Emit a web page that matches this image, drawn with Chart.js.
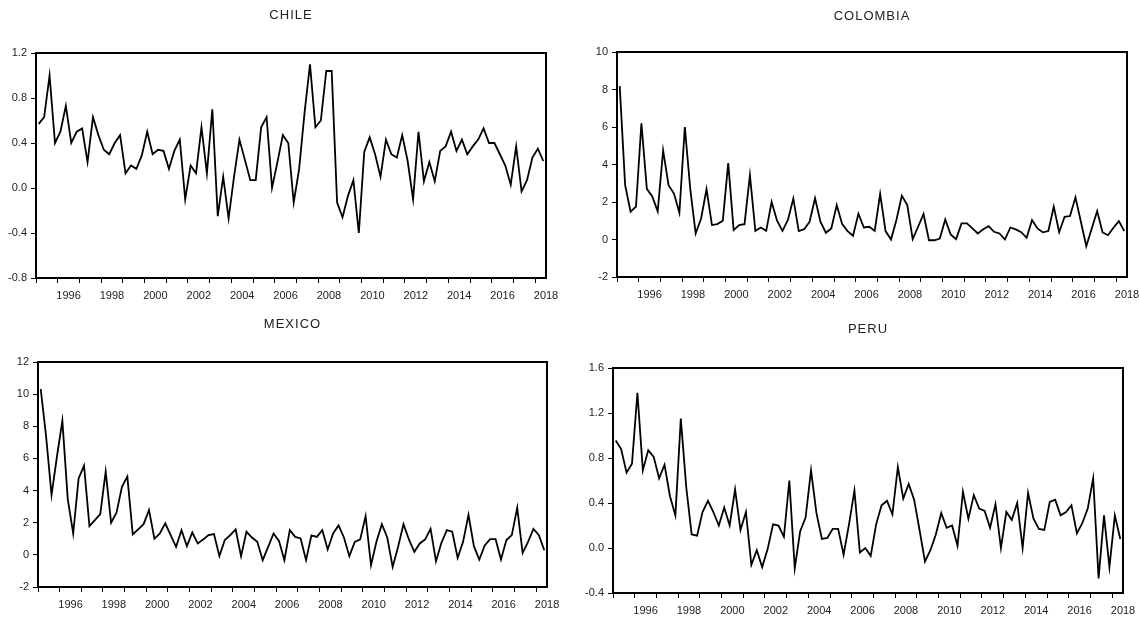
<!DOCTYPE html>
<html>
<head>
<meta charset="utf-8">
<script src="https://cdn.jsdelivr.net/npm/chart.js@4.4.1/dist/chart.umd.min.js"></script>
<style>
  body { margin: 0; background: #fff; }
  canvas { position: absolute; }
</style>
</head>
<body>
<canvas id="chile" width="570" height="305" style="left:0;top:0"></canvas>
<canvas id="colombia" width="569" height="305" style="left:570px;top:0"></canvas>
<canvas id="mexico" width="570" height="309" style="left:0;top:310px"></canvas>
<canvas id="peru" width="569" height="309" style="left:570px;top:310px"></canvas>
<script>
// quarterly series, 1995Q1 - 2018Q2
var firstYear = 1995;
var nQuarters = 94;

var xTickYears = [1995, 1996, 1997, 1998, 1999, 2000, 2001, 2002, 2003, 2004, 2005, 2006,
                  2007, 2008, 2009, 2010, 2011, 2012, 2013, 2014, 2015, 2016, 2017, 2018];
var xLabelYears = [1996, 1998, 2000, 2002, 2004, 2006, 2008, 2010, 2012, 2014, 2016, 2018];

var chile = [
    0.57, 0.63, 1.00, 0.40, 0.50, 0.73, 0.40, 0.50, 0.53, 0.23,
    0.63, 0.47, 0.34, 0.30, 0.40, 0.47, 0.13, 0.20, 0.17, 0.29,
    0.50, 0.30, 0.34, 0.33, 0.17, 0.33, 0.43, -0.10, 0.20, 0.13,
    0.54, 0.13, 0.70, -0.25, 0.10, -0.27, 0.10, 0.43, 0.25, 0.07,
    0.07, 0.54, 0.63, 0.00, 0.23, 0.47, 0.40, -0.13, 0.17, 0.67,
    1.10, 0.54, 0.60, 1.04, 1.04, -0.13, -0.26, -0.07, 0.07, -0.40,
    0.32, 0.45, 0.30, 0.10, 0.43, 0.30, 0.27, 0.47, 0.24, -0.10,
    0.50, 0.06, 0.23, 0.06, 0.33, 0.37, 0.50, 0.33, 0.43, 0.30,
    0.37, 0.43, 0.53, 0.40, 0.40, 0.30, 0.20, 0.03, 0.37, -0.03,
    0.07, 0.27, 0.35, 0.24
];
var colombia = [
    8.18, 2.90, 1.48, 1.75, 6.20, 2.70, 2.30, 1.50, 4.75, 2.90,
    2.45, 1.43, 6.00, 2.70, 0.32, 1.12, 2.68, 0.77, 0.82, 1.00,
    4.07, 0.50, 0.77, 0.82, 3.43, 0.46, 0.64, 0.46, 2.00, 1.00,
    0.46, 1.04, 2.18, 0.45, 0.55, 0.95, 2.20, 0.95, 0.36, 0.59,
    1.84, 0.82, 0.45, 0.20, 1.38, 0.64, 0.68, 0.46, 2.43, 0.45,
    0.00, 1.04, 2.34, 1.84, 0.02, 0.68, 1.36, -0.04, -0.04, 0.05,
    1.07, 0.27, 0.02, 0.86, 0.86, 0.59, 0.32, 0.55, 0.71, 0.41,
    0.32, 0.00, 0.64, 0.54, 0.39, 0.09, 1.04, 0.59, 0.38, 0.45,
    1.75, 0.39, 1.21, 1.25, 2.25, 0.95, -0.36, 0.59, 1.52, 0.38,
    0.23, 0.63, 0.98, 0.45
];
var mexico = [
    10.32, 7.36, 3.72, 6.12, 8.34, 3.45, 1.33, 4.76, 5.55, 1.79,
    2.16, 2.54, 5.18, 2.00, 2.62, 4.24, 4.87, 1.27, 1.58, 1.91,
    2.79, 1.00, 1.33, 1.96, 1.23, 0.50, 1.54, 0.54, 1.39, 0.71,
    0.96, 1.23, 1.29, -0.08, 0.92, 1.23, 1.58, -0.08, 1.44, 1.08,
    0.81, -0.33, 0.50, 1.33, 0.87, -0.33, 1.54, 1.12, 1.02, -0.33,
    1.21, 1.12, 1.54, 0.33, 1.33, 1.83, 1.08, -0.08, 0.81, 0.96,
    2.41, -0.64, 0.81, 1.91, 1.08, -0.75, 0.50, 1.91, 0.96, 0.19,
    0.71, 0.96, 1.62, -0.40, 0.75, 1.54, 1.44, -0.19, 0.81, 2.48,
    0.54, -0.29, 0.58, 0.98, 0.98, -0.29, 0.92, 1.23, 2.93, 0.12,
    0.81, 1.62, 1.23, 0.29
];
var peru = [
    0.955, 0.88, 0.67, 0.75, 1.38, 0.69, 0.87, 0.81, 0.62, 0.74,
    0.46, 0.29, 1.15, 0.54, 0.12, 0.11, 0.32, 0.42, 0.32, 0.20,
    0.36, 0.20, 0.52, 0.16, 0.32, -0.15, -0.02, -0.17, -0.01, 0.21,
    0.20, 0.10, 0.60, -0.18, 0.15, 0.27, 0.69, 0.31, 0.08, 0.09,
    0.17, 0.17, -0.06, 0.21, 0.51, -0.04, 0.00, -0.07, 0.21, 0.38,
    0.42, 0.30, 0.72, 0.44, 0.57, 0.43, 0.16, -0.12, -0.02, 0.12,
    0.31, 0.18, 0.20, 0.02, 0.50, 0.26, 0.47, 0.35, 0.33, 0.18,
    0.39, 0.00, 0.32, 0.25, 0.40, 0.00, 0.49, 0.26, 0.17, 0.16,
    0.41, 0.43, 0.29, 0.32, 0.38, 0.13, 0.22, 0.35, 0.62, -0.27,
    0.29, -0.17, 0.29, 0.08
];

var chileTicks = [-0.8, -0.4, 0.0, 0.4, 0.8, 1.2];
var colombiaTicks = [-2, 0, 2, 4, 6, 8, 10];
var mexicoTicks = [-2, 0, 2, 4, 6, 8, 10, 12];
var peruTicks = [-0.4, 0.0, 0.4, 0.8, 1.2, 1.6];

// each point sits in the middle of its quarter
var quarterPos = [];
for (var i = 0; i < nQuarters; i++) {
    quarterPos.push(firstYear + (i + 0.5) / 4);
}

Chart.defaults.font.family = 'Arial, "Liberation Sans", Helvetica, sans-serif';
Chart.defaults.color = '#222';

var frame = {
    id: 'frame',
    afterDatasetsDraw: function (chart) {
        var a = chart.chartArea, ctx = chart.ctx;
        ctx.save();
        ctx.strokeStyle = '#000';
        ctx.lineWidth = 2;
        ctx.strokeRect(a.left, a.top, a.right - a.left, a.bottom - a.top);
        ctx.restore();
    }
};

// the titles are a little letter-spaced; tick labels are drawn later (ticks.z: 1) without it
var spacedTitle = {
    id: 'spacedTitle',
    beforeDraw: function (chart) { chart.ctx.letterSpacing = '1px'; },
    beforeDatasetsDraw: function (chart) { chart.ctx.letterSpacing = '0px'; }
};

function drawPanel(id, title, values, yTicks, decimals, box) {
    var axisGrid = { drawOnChartArea: false, drawTicks: true, tickLength: 5, color: '#000', lineWidth: 1 };
    return new Chart(document.getElementById(id), {
        type: 'line',
        data: {
            datasets: [{
                data: values.map(function (v, i) { return { x: quarterPos[i], y: v }; }),
                borderColor: '#000',
                borderWidth: 1.8,
                pointRadius: 0,
                tension: 0,
                fill: false
            }]
        },
        options: {
            responsive: false,
            animation: false,
            events: [],
            layout: { padding: { left: 0, right: box.padRight, top: 0, bottom: 0 } },
            plugins: {
                legend: { display: false },
                tooltip: { enabled: false },
                title: {
                    display: true,
                    text: title,
                    fullSize: false,
                    color: '#222',
                    font: { size: 13, weight: 'normal' },
                    padding: { top: box.titleY - 7.8, bottom: box.plotTop - box.titleY - 7.8 }
                }
            },
            scales: {
                x: {
                    type: 'linear',
                    min: firstYear,
                    max: firstYear + nQuarters / 4,
                    afterBuildTicks: function (s) { s.ticks = xTickYears.map(function (v) { return { value: v }; }); },
                    afterFit: function (s) { s.height = box.xHeight; },
                    grid: axisGrid,
                    border: { display: false },
                    ticks: {
                        z: 1,
                        autoSkip: false,
                        maxRotation: 0,
                        padding: 6,
                        labelOffset: 10.85,
                        font: { size: 11 },
                        callback: function (v) { return xLabelYears.indexOf(v) >= 0 ? String(v) : ''; }
                    }
                },
                y: {
                    min: yTicks[0],
                    max: yTicks[yTicks.length - 1],
                    afterBuildTicks: function (s) { s.ticks = yTicks.map(function (v) { return { value: v }; }); },
                    afterFit: function (s) { s.width = box.yWidth; },
                    grid: axisGrid,
                    border: { display: false },
                    ticks: {
                        z: 1,
                        padding: 4,
                        font: { size: 11 },
                        callback: function (v) { return Number(v).toFixed(decimals); }
                    }
                }
            }
        },
        plugins: [spacedTitle, frame]
    });
}

drawPanel('chile', 'CHILE', chile, chileTicks, 1, { titleY: 15, plotTop: 53, yWidth: 36, padRight: 24, xHeight: 27 });
drawPanel('colombia', 'COLOMBIA', colombia, colombiaTicks, 0, { titleY: 16, plotTop: 52, yWidth: 47, padRight: 12, xHeight: 28 });
drawPanel('mexico', 'MEXICO', mexico, mexicoTicks, 0, { titleY: 14, plotTop: 52, yWidth: 38, padRight: 23, xHeight: 32 });
drawPanel('peru', 'PERU', peru, peruTicks, 1, { titleY: 19, plotTop: 58, yWidth: 43, padRight: 16, xHeight: 26 });
</script>
</body>
</html>
